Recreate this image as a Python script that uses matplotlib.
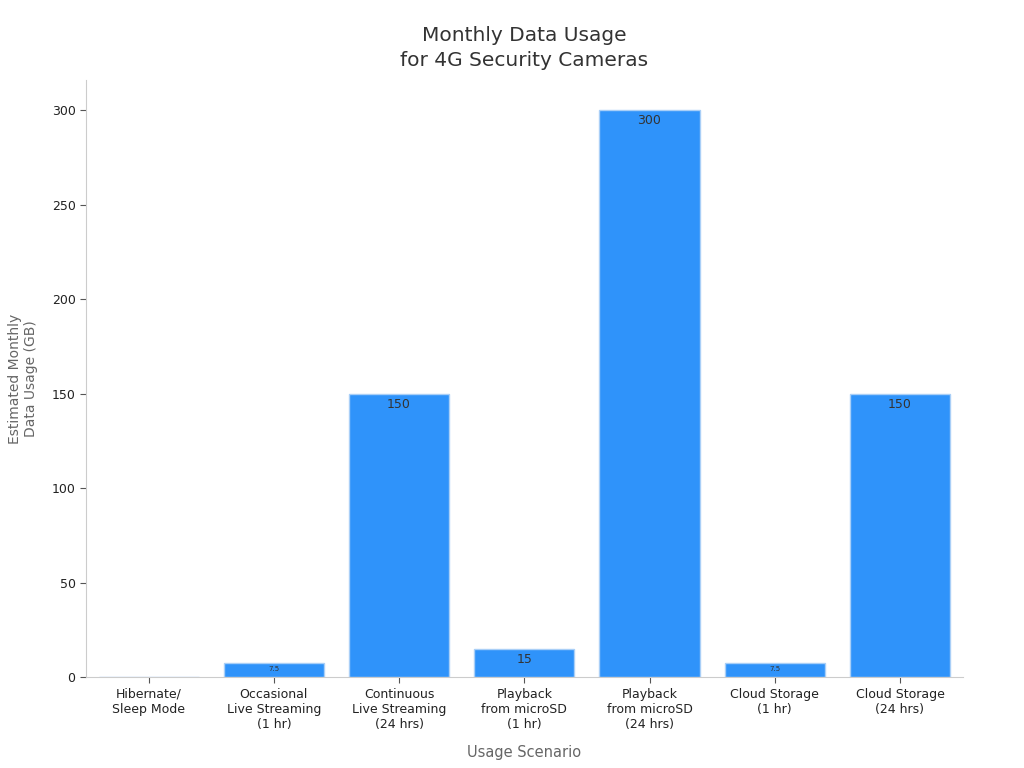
import matplotlib
matplotlib.use('Agg')
import matplotlib.pyplot as plt

scenarios = ['Hibernate/\nSleep Mode', 'Occasional\nLive Streaming\n(1 hr)',
             'Continuous\nLive Streaming\n(24 hrs)', 'Playback\nfrom microSD\n(1 hr)',
             'Playback\nfrom microSD\n(24 hrs)', 'Cloud Storage\n(1 hr)',
             'Cloud Storage\n(24 hrs)']
usage_gb = [0.1, 7.5, 150, 15, 300, 7.5, 150]
bar_labels = ['', '7.5', '150', '15', '300', '7.5', '150']

BAR = '#2F93FA'
EDGE = '#A9CFF7'
SPINE = '#CCCCCC'
TEXT = '#333333'

fig = plt.figure(figsize=(10.24, 7.68), dpi=100)
ax = fig.add_axes([0.084, 0.118, 0.856, 0.778])

x = list(range(len(scenarios)))
bars = ax.bar(x, usage_gb, width=0.8, color=BAR, edgecolor=EDGE, linewidth=1)

for b, lab, v in zip(bars, bar_labels, usage_gb):
    if not lab:
        continue
    small = v < 10
    ax.text(b.get_x() + b.get_width() / 2, v - (3.2 if small else 2.2), lab,
            ha='center', va='center' if small else 'top',
            fontsize=5 if small else 9, color=TEXT)

ax.set_xlim(-0.5, 6.5)
ax.set_ylim(0, 316)
ax.set_yticks([0, 50, 100, 150, 200, 250, 300])
ax.set_xticks(x)
ax.set_xticklabels(scenarios, fontsize=9, color='#222222')
ax.tick_params(axis='y', labelsize=9, labelcolor='#222222', color='#555555', length=4)
ax.tick_params(axis='x', color='#555555', length=4)

for s in ['top', 'right']:
    ax.spines[s].set_visible(False)
for s in ['left', 'bottom']:
    ax.spines[s].set_color(SPINE)

ax.set_xlabel('Usage Scenario', fontsize=10.5, color='#666666', labelpad=10)
ax.set_ylabel('Estimated Monthly\nData Usage (GB)', fontsize=10, color='#666666', labelpad=10)
ax.set_title('Monthly Data Usage\nfor 4G Security Cameras', fontsize=14.5, color=TEXT,
             pad=10, linespacing=1.4)

fig.savefig('out.png', dpi=100, facecolor='white')
